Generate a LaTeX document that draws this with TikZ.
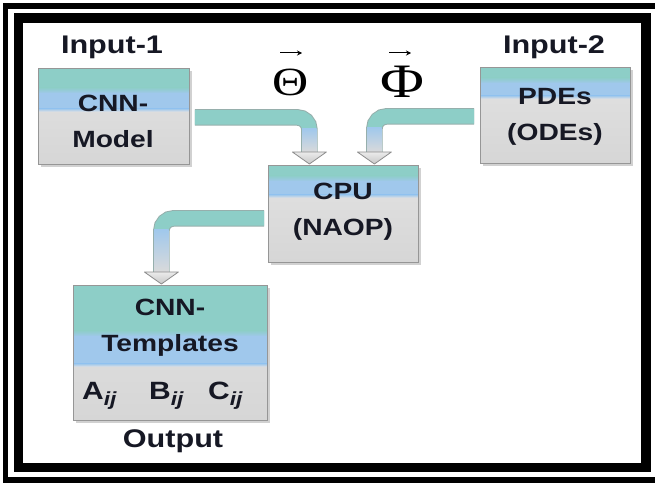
\documentclass[tikz,border=0pt]{standalone}
\usepackage{fontspec}
\setmainfont[FakeStretch=1.2]{Liberation Sans}
\newfontfamily\symfont[FakeStretch=1.25]{Liberation Serif}
\usetikzlibrary{shadows,calc,arrows.meta}

\definecolor{bandteal}{RGB}{141,206,199}
\definecolor{bandblue}{RGB}{160,200,236}
\definecolor{boxgray}{RGB}{226,226,226}
\definecolor{boxgraylow}{RGB}{214,214,214}
\definecolor{boxedge}{RGB}{150,150,150}
\definecolor{inkdark}{RGB}{22,24,36}
\definecolor{headgray}{RGB}{218,218,218}
\definecolor{shaftedge}{RGB}{150,175,172}

\tikzset{
  % box with a teal band (#1 high) and a blue band (#2 high) on a grey body
  blockbox/.style n args={4}{
    draw=boxedge, line width=0.8pt, inner sep=0pt, anchor=north west,
    minimum width=#3pt, minimum height=#4pt, fill=boxgray,
    drop shadow={shadow xshift=2.5pt, shadow yshift=-2.5pt, fill=black!40, opacity=0.45},
    path picture={
      \shade[top color=boxgray, bottom color=boxgraylow]
        (path picture bounding box.north west) rectangle (path picture bounding box.south east);
      \fill[bandteal] (path picture bounding box.north west)
        rectangle ([yshift=-#1pt+3pt]path picture bounding box.north east);
      \shade[top color=bandteal, bottom color=bandblue]
        ([yshift=-#1pt+3.1pt]path picture bounding box.north west)
        rectangle ([yshift=-#1pt-3pt]path picture bounding box.north east);
      \fill[bandblue] ([yshift=-#1pt-2.9pt]path picture bounding box.north west)
        rectangle ([yshift=-#1pt-#2pt+1.5pt]path picture bounding box.north east);
      \shade[top color=bandblue, bottom color=boxgray]
        ([yshift=-#1pt-#2pt+1.6pt]path picture bounding box.north west)
        rectangle ([yshift=-#1pt-#2pt-1.5pt]path picture bounding box.north east);
    }},
  boxtext/.style={align=center, text=inkdark, font=\bfseries\fontsize{23.5}{36}\selectfont, inner sep=0pt},
  titletext/.style={text=inkdark, font=\bfseries\fontsize{25.5}{30}\selectfont, inner sep=0pt},
  subtext/.style={text=inkdark, font=\bfseries\fontsize{25}{30}\selectfont, inner sep=0pt, anchor=base west},
  greektext/.style={text=black, font=\symfont, inner sep=0pt},
  vecbar/.style={draw=black, line width=1pt, -{Stealth[length=5pt, width=5pt]}},
  shaftout/.style={draw=shaftedge, line width=16.5pt, rounded corners=12pt},
  shaftin/.style={draw=bandteal, line width=14.5pt, rounded corners=12pt},
  headtip/.style={draw=black!45, line width=0.8pt, top color=white!92!black, bottom color=black!22, line join=round},
}

\newcommand{\ijsub}{\raisebox{-6pt}{\fontsize{19}{19}\selectfont\bfseries\itshape ij}}

\begin{document}
\begin{tikzpicture}[x=1pt, y=-1pt]
\useasboundingbox (0,0) rectangle (655,487);
\fill[white] (0,0) rectangle (655,487);

% double frame
\draw[line width=5.5pt] (5.5,6) rectangle (658,480);
\draw[line width=9.5pt] (18.5,18) rectangle (646,467.5);

% boxes
\node[blockbox={22}{20}{151}{96}] (cnn)  at (38,68)  {};
\node[blockbox={13}{17}{150}{96}] (pde)  at (480,67) {};
\node[blockbox={13}{18}{150}{97}] (cpu)  at (268,165) {};
\node[blockbox={48}{32}{194}{135}] (tmpl) at (73,285) {};

% box texts
\node[boxtext] (cnntxt) at (113,121) {CNN-\\Model};
\node[boxtext] (pdetxt) at (555,117) {PDEs\\(ODEs)};
\node[boxtext] (cputxt) at (343,212) {CPU\\(NAOP)};
\node[boxtext] (tmpltxt) at (170,328) {CNN-\\Templates};
\node[subtext] (aij) at (82,399) {A\ijsub};
\node[subtext] (bij) at (149,399) {B\ijsub};
\node[subtext] (cij) at (208,399) {C\ijsub};

% titles
\node[titletext] (in1) at (112,47) {Input-1};
\node[titletext] (in2) at (554,47) {Input-2};
\node[titletext] (outlbl) at (173,441) {Output};

% parameter vectors with their vector bars
\node[greektext, font=\symfont\fontsize{40}{40}\selectfont] (theta) at (291,82) {Θ};
\node[greektext, font=\symfont\fontsize{48}{48}\selectfont] (phi) at (402,82) {Φ};
\draw[vecbar] ([xshift=-11pt, yshift=29pt]theta.center) -- ++(22,0);
\draw[vecbar] ([xshift=-13pt, yshift=29pt]phi.center) -- ++(22,0);

% bent block arrows
\coordinate (a1s) at ([xshift=5pt,yshift=-1pt]cnn.east);
\coordinate (a1t) at ([xshift=-34pt,yshift=1pt]cpu.north);
\coordinate (a1b) at ([yshift=12pt]a1t);
\coordinate (a2s) at ([xshift=-6pt,yshift=-1pt]pde.west);
\coordinate (a2t) at ([xshift=31pt,yshift=1pt]cpu.north);
\coordinate (a2b) at ([yshift=12pt]a2t);
\coordinate (a3s) at ([xshift=-4pt,yshift=-4.5pt]cpu.west);
\coordinate (a3t) at ([xshift=-9pt,yshift=1pt]tmpl.north);
\coordinate (a3b) at ([yshift=12pt]a3t);

\foreach \s/\b/\t in {a1s/a1b/a1t, a2s/a2b/a2t, a3s/a3b/a3t}{
  \draw[shaftout] (\s) -| (\b);
  \draw[shaftin] (\s) -| (\b);
  \shade[top color=bandblue, middle color=bandblue!60!headgray, bottom color=headgray]
    ($(\s -| \b)+(-7.25,11)$) rectangle ($(\b)+(7.25,0.5)$);
  \draw[headtip] ($(\b)+(-17,0)$) -- ($(\b)+(17,0)$) -- (\t) -- cycle;
}
\end{tikzpicture}
\end{document}
